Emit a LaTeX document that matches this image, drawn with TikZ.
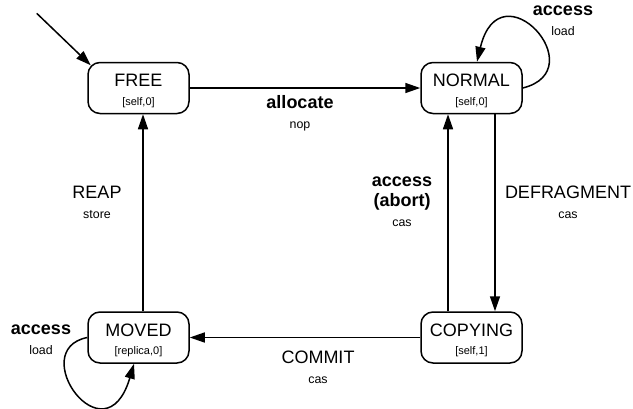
\documentclass[tikz,border=0pt]{standalone}
\usepackage{fontspec}
\setmainfont{Liberation Sans}
\usetikzlibrary{arrows.meta}

\newcommand{\actfont}{\fontsize{12.4}{14}\selectfont}
\newcommand{\tagfont}{\fontsize{11}{13}\selectfont}
\newcommand{\statetext}[2]{\rule{0pt}{18pt}#1\\{\tagfont #2}}

\begin{document}
\begin{tikzpicture}
[x=1pt, y=1pt, font=\fontsize{18}{20}\selectfont,
 state/.style={draw, line width=1.5pt, rounded corners=12pt, align=center,
               minimum width=101pt, minimum height=51pt, inner sep=0pt,
               font=\fontsize{18}{18.5}\selectfont},
 edgelabel/.style={align=center},
 trans/.style={-{Triangle[length=15pt,width=10pt]}, line width=1.5pt}]
  \useasboundingbox (0,0) rectangle (633,-408);

  % states
  \node[state] (free)    at (138.5,-88)    {\statetext{FREE}{[self,0]}};
  \node[state] (normal)  at (471.5,-88)    {\statetext{NORMAL}{[self,0]}};
  \node[state] (copying) at (471.5,-337.5) {\statetext{COPYING}{[self,1]}};
  \node[state] (moved)   at (138.5,-337.5) {\statetext{MOVED}{[replica,0]}};

  % initial arrow
  \coordinate (init) at (36.7,-13.3);
  \draw[trans] (init) -- ([xshift=3.5pt,yshift=-3.5pt]free.north west);

  % transitions
  \draw[trans] (free.east) -- (normal.west);
  \draw[trans] ([xshift=23.5pt]normal.south) -- ([xshift=23.5pt]copying.north);
  \draw[trans] ([xshift=-23.5pt]copying.north) -- ([xshift=-23.5pt]normal.south);
  \draw[trans] (copying.west) -- (moved.east);
  \draw[trans] ([xshift=4.5pt]moved.north) -- ([xshift=4.5pt]free.south);
  \draw[trans] (normal.east) .. controls (595,-70) and (500,35) .. ([xshift=5.5pt]normal.north);
  \draw[trans] (moved.west) .. controls (25,-350) and (105,-462) .. ([xshift=-4.5pt]moved.south);

  % labels
  \node[edgelabel] (alloclbl)  at (300,-113.3) {\textbf{allocate}\\{\actfont nop}};
  \node[edgelabel] (defraglbl) at (568,-202)   {DEFRAGMENT\\{\actfont cas}};
  \node[edgelabel] (abortlbl)  at (402,-201.7) {\textbf{access}\\\textbf{(abort)}\\{\actfont cas}};
  \node[edgelabel] (commitlbl) at (318,-367)   {COMMIT\\{\actfont cas}};
  \node[edgelabel] (reaplbl)   at (97,-202)    {REAP\\{\actfont store}};
  \node[edgelabel] (nloadlbl)  at (563,-21)    {\textbf{access}\\{\actfont load}};
  \node[edgelabel] (mloadlbl)  at (41,-340)    {\textbf{access}\\{\actfont load}};
\end{tikzpicture}
\end{document}
